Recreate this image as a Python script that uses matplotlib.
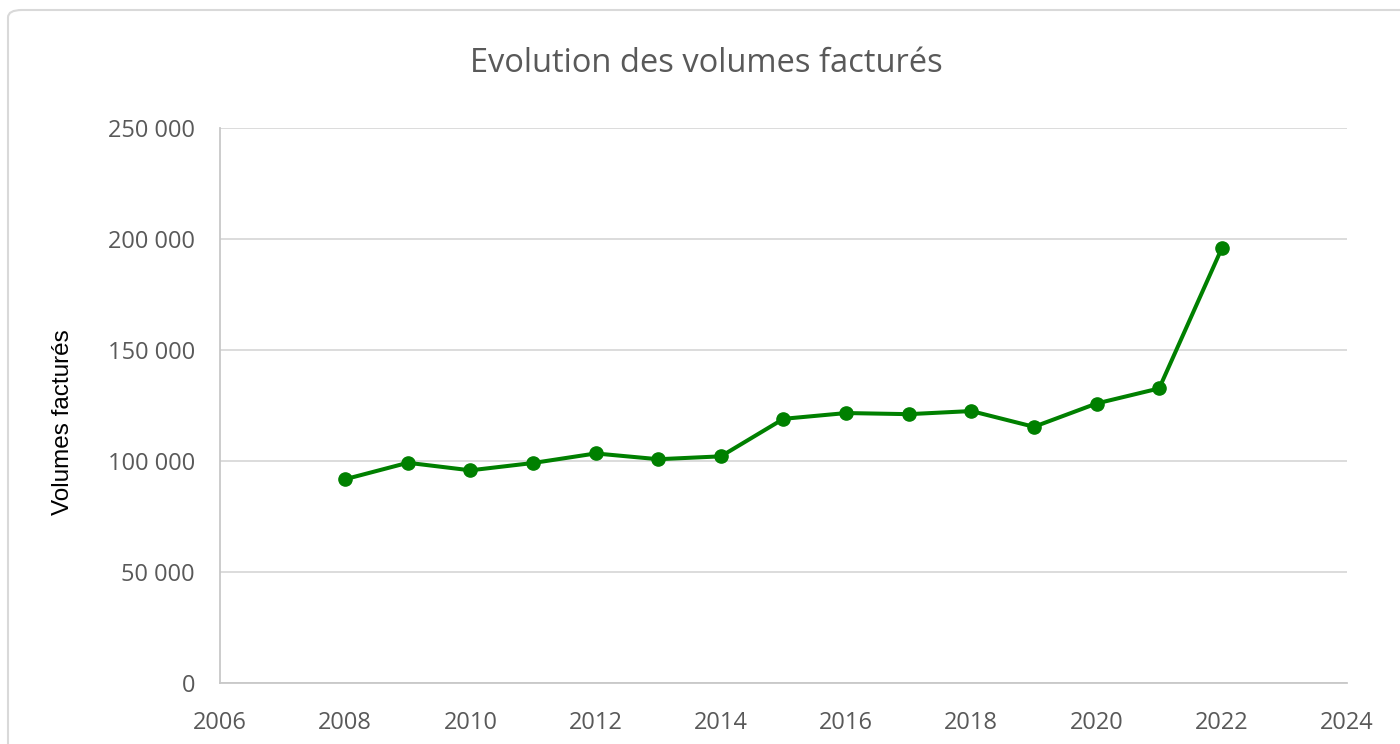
import matplotlib.pyplot as plt
from matplotlib.patches import FancyBboxPatch
from matplotlib.ticker import FuncFormatter

years = [2008, 2009, 2010, 2011, 2012, 2013, 2014, 2015, 2016, 2017, 2018, 2019, 2020, 2021, 2022]
volumes = [91800, 99200, 95800, 99100, 103400, 100800, 102100, 119000, 121600, 121100, 122500, 115400, 125900, 132700, 195800]

plt.rcParams['font.family'] = ['Open Sans', 'DejaVu Sans']

fig = plt.figure(figsize=(14, 7.44), dpi=100)
W, H = 1400, 744
ax = fig.add_axes([220 / W, 1 - 683 / H, (1347 - 220) / W, (683 - 128) / H])

# outer chart border
fig.patches.append(FancyBboxPatch((8 / W, -0.05), 1.2, 1 - 10 / H + 0.05,
                                  boxstyle='round,pad=0,rounding_size=0.01',
                                  transform=fig.transFigure, fill=False,
                                  edgecolor='#d9d9d9', linewidth=1.5))

ax.plot(years, volumes, color='#008000', linewidth=2.9, marker='o', markersize=9.5)

ax.set_xlim(2006, 2024)
ax.set_ylim(0, 250000)
ax.set_xticks(range(2006, 2025, 2))
ax.set_yticks(range(0, 250001, 50000))
ax.yaxis.set_major_formatter(FuncFormatter(lambda v, p: f'{int(v):,}'.replace(',', ' ')))
ax.grid(axis='y', color='#d9d9d9', linewidth=1.3)
ax.set_axisbelow(True)
for s in ['top', 'right']:
    ax.spines[s].set_visible(False)
for s in ['left', 'bottom']:
    ax.spines[s].set_color('#c8c8c8')
    ax.spines[s].set_linewidth(1.3)
ax.tick_params(length=0, labelsize=17, colors='#595959')
ax.tick_params(axis='x', pad=20)
ax.tick_params(axis='y', pad=18)

fig.text(706 / W, 1 - 63 / H, 'Evolution des volumes facturés', ha='center', va='center',
         fontsize=23.5, color='#595959')
fig.text(63 / W, 1 - 422 / H, 'Volumes facturés', rotation=90, ha='center', va='center',
         fontsize=17.5, color='black', family=['Liberation Sans', 'DejaVu Sans'])

fig.savefig('out.png', dpi=100)
